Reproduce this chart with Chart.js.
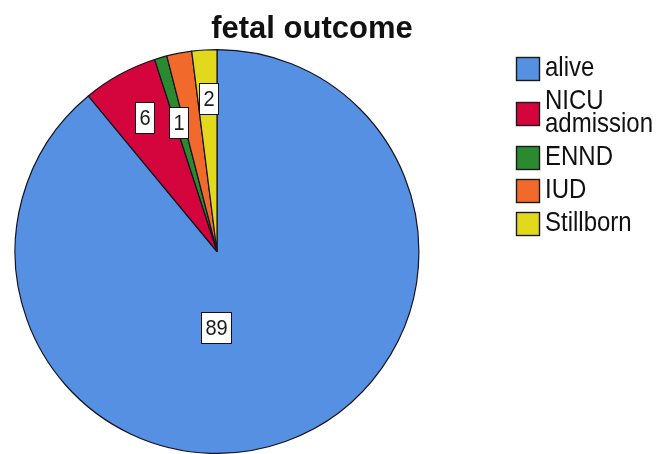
<!DOCTYPE html>
<html>
<head>
<meta charset="utf-8">
<script src="https://cdn.jsdelivr.net/npm/chart.js@4"></script>
<style>
  html, body { margin: 0; padding: 0; background: #ffffff; }
  #wrap { position: relative; width: 661px; height: 454px; }
  canvas { display: block; }
</style>
</head>
<body>
<div id="wrap"><canvas id="pie" width="661" height="454"></canvas></div>
<script>
// fetal outcome counts (percent of cases)
const categories = ['alive', 'NICU admission', 'ENND', 'IUD', 'Stillborn'];
const counts = [89, 6, 1, 2, 2];
const sliceColors = ['#5590e2', '#d4053c', '#2b8a30', '#f26a2b', '#e3d91c'];
// which slices get a value box (IUD's box is suppressed, it collides with its neighbours)
const showValue = [true, true, true, false, true];
// where each value box sits: fraction along the slice's sweep, fraction of the radius
const boxSweep = [0.565, 0.52, 0.42, 0.5, 0.54];
const boxRadius = [0.375, 0.755, 0.665, 0.7, 0.76];

const FONT = '"Liberation Sans", Arial, sans-serif';
const TEXT_STRETCH = 1.12; // glyphs are drawn a little taller than wide

function wrapWords(ctx, text, maxW) {
  const words = text.split(' ');
  const lines = [];
  let cur = '';
  for (const w of words) {
    const t = cur ? cur + ' ' + w : w;
    if (cur && ctx.measureText(t).width > maxW) { lines.push(cur); cur = w; }
    else cur = t;
  }
  if (cur) lines.push(cur);
  return lines;
}

function tallText(ctx, txt, x, y) {
  ctx.save();
  ctx.translate(x, y);
  ctx.scale(1, TEXT_STRETCH);
  ctx.fillText(txt, 0, 0);
  ctx.restore();
}

const decorations = {
  id: 'decorations',
  afterDatasetsDraw(chart) {
    const ctx = chart.ctx;
    const meta = chart.getDatasetMeta(0);
    const values = chart.data.datasets[0].data;
    ctx.save();
    ctx.font = '20px ' + FONT;
    ctx.textAlign = 'center';
    ctx.textBaseline = 'middle';
    meta.data.forEach((arc, i) => {
      if (!showValue[i]) return;
      const p = arc.getProps(['x', 'y', 'startAngle', 'endAngle', 'outerRadius'], true);
      const a = p.startAngle + (p.endAngle - p.startAngle) * boxSweep[i];
      const r = p.outerRadius * boxRadius[i];
      const cx = p.x + Math.cos(a) * r;
      const cy = p.y + Math.sin(a) * r;
      const txt = String(values[i]);
      const w = Math.round(ctx.measureText(txt).width + 8);
      const h = 31;
      const bx = Math.round(cx - w / 2) + 0.5;
      const by = Math.round(cy - h / 2) + 0.5;
      ctx.fillStyle = '#ffffff';
      ctx.fillRect(bx, by, w, h);
      ctx.strokeStyle = '#111111';
      ctx.lineWidth = 1;
      ctx.strokeRect(bx, by, w, h);
      ctx.fillStyle = '#1a1a1a';
      tallText(ctx, txt, bx + w / 2, by + h / 2 + 1);
    });
    ctx.restore();
  },
  afterDraw(chart) {
    const ctx = chart.ctx;
    ctx.save();
    // title
    ctx.fillStyle = '#111111';
    ctx.font = 'bold 31px ' + FONT;
    ctx.textAlign = 'center';
    ctx.textBaseline = 'alphabetic';
    ctx.fillText('fetal outcome', 312, 38);

    // legend
    ctx.font = '24px ' + FONT;
    ctx.textAlign = 'left';
    ctx.textBaseline = 'middle';
    const lineH = 23;
    const gap = 10;
    let y = 68;
    chart.data.labels.forEach((lab, i) => {
      const lines = wrapWords(ctx, lab, 118);
      const blockH = lineH * lines.length;
      const mid = y + (blockH - lineH) / 2;
      ctx.fillStyle = sliceColors[i];
      ctx.fillRect(516.5, Math.round(mid - 11) + 0.5, 23, 23);
      ctx.strokeStyle = '#1a1a1a';
      ctx.lineWidth = 1.4;
      ctx.strokeRect(516.5, Math.round(mid - 11) + 0.5, 23, 23);
      ctx.fillStyle = '#111111';
      lines.forEach((ln, k) => tallText(ctx, ln, 545, y + k * lineH + 1));
      y += blockH + gap;
    });
    ctx.restore();
  }
};

new Chart(document.getElementById('pie'), {
  type: 'pie',
  data: {
    labels: categories,
    datasets: [{
      data: counts,
      backgroundColor: sliceColors,
      borderColor: '#141420',
      borderWidth: 1.2
    }]
  },
  options: {
    responsive: false,
    devicePixelRatio: 1,
    animation: false,
    events: [],
    layout: { padding: { left: 12, top: 49, right: 239, bottom: 0 } },
    plugins: {
      legend: { display: false },
      title: { display: false },
      tooltip: { enabled: false }
    }
  },
  plugins: [decorations]
});
</script>
</body>
</html>
